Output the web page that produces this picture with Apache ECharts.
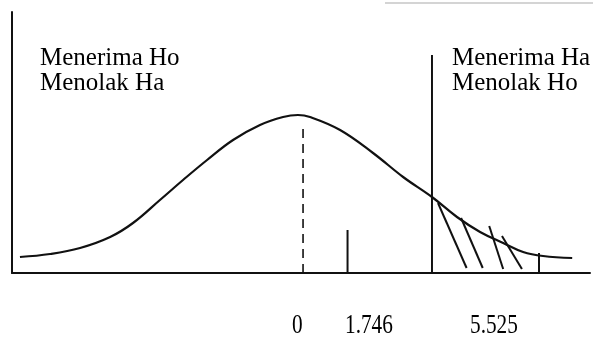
<!DOCTYPE html>
<html>
<head>
<meta charset="utf-8">
<script src="https://cdn.jsdelivr.net/npm/echarts@6/dist/echarts.min.js"></script>
<style>
  html, body { margin: 0; padding: 0; background: #fff; }
  #chart { width: 593px; height: 348px; }
</style>
</head>
<body>
<div id="chart"></div>
<script>
// curve (x in t units, y in px height above the axis)
const curveX = [-11.77, -10.52, -9.27, -8.02, -7.07, -5.95, -4.99, -3.99, -2.91, -1.79, -0.83, -0.21, 0.29, 1.54, 2.91, 4.16, 5.36, 6.40, 7.36, 8.32, 9.15, 9.98, 11.19];
const curveY = [16, 19, 25, 36, 50, 73, 93, 113, 133, 148, 156, 158, 156, 143, 120, 96, 76, 56, 41, 30, 21, 17, 15];

// vertical marks: [x, yTop]
const meanLine = [0, 146];
const tTable = [1.85, 43];
const regionLine = [5.36, 218];
const tailTick = [9.81, 20];

// hatching in the rejection region: [x1, y1, x2, y2]
const hatch = [
  [5.61, 70, 6.80, 5],
  [6.57, 55, 7.47, 5],
  [7.74, 47, 8.32, 4],
  [8.27, 37, 9.10, 4]
];

const leftText = ['Menerima Ho', 'Menolak Ha'];
const rightText = ['Menerima Ha', 'Menolak Ho'];
const tickLabels = ['0', '1.746', '5.525'];

const chart = echarts.init(document.getElementById('chart'));

const black = '#111';
const seg = (pts, extra) => Object.assign({
  type: 'line',
  data: pts,
  symbol: 'none',
  silent: true,
  lineStyle: { color: black, width: 2 }
}, extra || {});

let series = [
  seg(curveX.map((x, i) => [x, curveY[i]]), { smooth: 0.4, lineStyle: { color: black, width: 2.2 } }),
  seg([[meanLine[0], 0], [meanLine[0], meanLine[1]]], { lineStyle: { color: black, width: 1.6, type: [9, 6] } }),
  seg([[tTable[0], 0], [tTable[0], tTable[1]]]),
  seg([[regionLine[0], 0], [regionLine[0], regionLine[1]]]),
  seg([[tailTick[0], 0], [tailTick[0], tailTick[1]]])
];
hatch.forEach(h => series.push(seg([[h[0], h[1]], [h[2], h[3]]])));

const txtStyle = (text, size, lh) => ({
  text: text,
  fontFamily: 'Liberation Serif',
  fontSize: size,
  lineHeight: lh,
  fill: '#000'
});

const option = {
  animation: false,
  backgroundColor: '#fff',
  grid: { left: 12, right: 3, top: 12, bottom: 75 },
  xAxis: {
    type: 'value',
    min: -12.1,
    max: 11.93,
    axisLine: { onZero: false, lineStyle: { color: black, width: 2 } },
    axisTick: { show: false },
    axisLabel: { show: false },
    splitLine: { show: false }
  },
  yAxis: {
    type: 'value',
    min: 0,
    max: 261,
    axisLine: { show: true, onZero: false, lineStyle: { color: black, width: 2 } },
    axisTick: { show: false },
    axisLabel: { show: false },
    splitLine: { show: false }
  },
  graphic: [
    { type: 'line', shape: { x1: 385, y1: 3, x2: 593, y2: 3 }, style: { stroke: '#d4d4d4', lineWidth: 2 } },
    { type: 'text', left: 40, top: 46, style: txtStyle(leftText.join('\n'), 25, 25) },
    { type: 'text', left: 452, top: 46, style: txtStyle(rightText.join('\n'), 25, 25) },
    { type: 'text', left: 292, top: 312, scaleX: 0.76, style: txtStyle(tickLabels[0], 28, 28) },
    { type: 'text', left: 345, top: 312, scaleX: 0.76, style: txtStyle(tickLabels[1], 28, 28) },
    { type: 'text', left: 470, top: 312, scaleX: 0.76, style: txtStyle(tickLabels[2], 28, 28) }
  ],
  series: series
};

chart.setOption(option);
</script>
</body>
</html>
